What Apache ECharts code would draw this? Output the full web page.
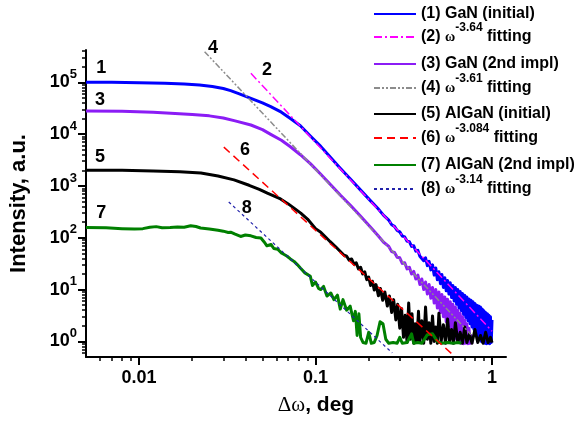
<!DOCTYPE html>
<html>
<head>
<meta charset="utf-8">
<script src="https://cdn.jsdelivr.net/npm/echarts@6/dist/echarts.min.js"></script>
<style>
  html, body { margin: 0; padding: 0; background: #fff; }
  #chart { width: 586px; height: 426px; }
</style>
</head>
<body>
<div id="chart"></div>
<script>
// axis ticks
const xMajorTicks = [0.01, 0.1, 1];
const xMinorTicks = [0.006, 0.007, 0.008, 0.009, 0.02, 0.03, 0.04, 0.05, 0.06, 0.07, 0.08, 0.09,
  0.2, 0.3, 0.4, 0.5, 0.6, 0.7, 0.8, 0.9];
const yMajorTicks = [1, 10, 100, 1000, 10000, 100000];
const yMinorTicks = [0.6, 0.7, 0.8, 0.9, 2, 3, 4, 5, 6, 7, 8, 9, 20, 30, 40, 50, 60, 70, 80, 90,
  200, 300, 400, 500, 600, 700, 800, 900, 2000, 3000, 4000, 5000, 6000, 7000, 8000, 9000,
  20000, 30000, 40000, 50000, 60000, 70000, 80000, 90000, 200000, 300000, 400000];

// (1) GaN (initial)
const ganInitial = [[0.005,1.0e5],[0.007,1.0e5],[0.01,9.8e4],[0.014,9.6e4],[0.018,9.3e4],[0.022,8.9e4],
  [0.026,8.3e4],[0.03,7.6e4],[0.033,6.9e4],[0.037,6.0e4],[0.043,4.9e4],[0.05,4.0e4],[0.0557,3.4e4],
  [0.064,2.65e4],[0.072,2.0e4],[0.082,1.45e4],[0.0934,9.2e3],[0.107,5.8e3],[0.121,3.6e3],[0.138,2.2e3],
  [0.158,1.35e3],[0.18,830],[0.205,515],[0.225,370],[0.243,270],
  [0.26,218],[0.27,178],[0.28,166],[0.29,138],[0.30,130],[0.31,108],[0.32,104],[0.33,86],[0.34,84],
  [0.35,68],[0.36,70],[0.37,55],[0.38,57],[0.39,44],[0.40,48],[0.41,36],[0.42,41],[0.43,29],[0.44,35],
  [0.45,24],[0.46,30],[0.47,19],[0.48,26],[0.49,15.5],[0.50,22],[0.51,13],[0.52,19.5],[0.53,11],
  [0.54,17],[0.55,9.5],[0.56,15],[0.57,8.2],[0.58,13.5],[0.59,7],[0.60,12],[0.61,6],[0.62,11],
  [0.63,5.2],[0.64,10],[0.65,4.4],[0.66,9.2],[0.67,3.9],[0.68,8.4],[0.69,3.3],[0.70,7.8],[0.71,2.9],
  [0.72,7.2],[0.73,2.5],[0.74,6.6],[0.75,2.2],[0.76,6.2],[0.77,1.9],[0.78,5.8],[0.79,1.7],[0.80,5.4],
  [0.81,1.5],[0.82,5.0],[0.83,1.3],[0.84,4.8],[0.85,1.15],[0.86,4.6],[0.87,1.0],[0.88,4.2],[0.89,0.95],
  [0.90,3.9],[0.91,0.92],[0.92,3.6],[0.93,0.9],[0.94,3.4],[0.95,0.92],[0.96,3.2],[0.97,0.9],[0.98,3.0],
  [0.99,0.95],[1.0,2.6]];

// (3) GaN (2nd impl)
const ganImpl = [[0.005,2.8e4],[0.008,2.75e4],[0.012,2.65e4],[0.016,2.5e4],[0.02,2.4e4],[0.025,2.25e4],
  [0.03,2.05e4],[0.035,1.8e4],[0.043,1.5e4],[0.05,1.22e4],[0.0557,9.9e3],[0.064,7.6e3],[0.072,5.7e3],
  [0.082,4.0e3],[0.0934,2.7e3],[0.107,1.68e3],[0.121,1.08e3],[0.138,670],[0.158,420],[0.18,260],
  [0.205,160],[0.225,112],[0.243,82],
  [0.26,68],[0.27,54],[0.28,52],[0.29,42],[0.30,41],[0.31,32],[0.32,33],[0.33,25],[0.34,27],[0.35,20],
  [0.36,22.5],[0.37,16],[0.38,19],[0.39,12.5],[0.40,16],[0.41,10],[0.42,14],[0.43,8.2],[0.44,12.5],
  [0.45,6.8],[0.46,11],[0.47,5.5],[0.48,10],[0.49,4.4],[0.50,9],[0.51,3.6],[0.52,8],[0.53,3.0],
  [0.54,7.2],[0.55,2.4],[0.56,6.5],[0.57,2.0],[0.58,5.8],[0.59,1.6],[0.60,5.2],[0.61,1.3],[0.62,4.6],
  [0.63,1.1],[0.64,4.0],[0.65,0.95],[0.66,3.5],[0.67,0.92],[0.68,3.0],[0.69,0.9],[0.70,2.6],[0.71,0.92],
  [0.72,2.2],[0.73,0.9],[0.74,1.8],[0.75,0.92],[0.76,1.3],[0.77,0.9]];

// (5) AlGaN (initial)
const alganInitial = [[0.005,2.0e3],[0.008,2.0e3],[0.012,1.95e3],[0.017,1.88e3],[0.0224,1.77e3],
  [0.028,1.56e3],[0.0345,1.31e3],[0.042,1.03e3],[0.048,860],[0.0533,726],[0.0633,560],[0.07,450],
  [0.0755,373],[0.0824,299],[0.09,230],[0.1,150],[0.107,128],[0.115,100],[0.121,84],[0.13,67],
  [0.139,53],[0.145,46],
  [0.15,44],[0.155,37],[0.16,39],[0.165,31],[0.17,33],[0.175,25],[0.18,27],[0.185,20],[0.19,22],
  [0.195,15.5],[0.20,17.5],[0.205,12],[0.21,14.5],[0.215,9.8],[0.22,12.5],[0.227,7.6],[0.233,10.5],
  [0.24,6.2],[0.247,9],[0.255,4.8],[0.262,7.5],[0.27,3.6],[0.277,6.4],[0.285,2.6],[0.292,5.2],
  [0.30,1.8],[0.307,4.3],[0.315,1.2],[0.322,3.2],[0.33,0.95],[0.337,5.5],[0.345,1.1],[0.352,3.4],
  [0.36,0.92],[0.367,2.2],[0.375,0.95],[0.383,3.8],[0.39,1.0],[0.40,2.5],[0.41,0.92],[0.42,4.6],
  [0.43,1.1],[0.44,2.3],[0.45,0.92],[0.46,3.1],[0.47,1.0],[0.48,1.9],[0.49,0.92],[0.50,3.5],
  [0.515,1.0],[0.53,2.1],[0.545,0.92],[0.56,2.7],[0.575,1.0],[0.59,1.7],[0.605,0.92],[0.62,2.3],
  [0.64,0.95],[0.66,1.5],[0.68,0.92],[0.70,1.9],[0.72,0.95],[0.745,1.4],[0.77,0.92],[0.80,1.7],
  [0.83,0.95],[0.86,1.3],[0.89,0.92],[0.92,1.5],[0.95,0.95],[0.98,1.2],[1.0,0.95]];

// (7) AlGaN (2nd impl)
const alganImpl = [[0.005,158],[0.0065,156],[0.008,150],[0.0094,147],[0.0105,150],[0.0115,160],
  [0.0125,164],[0.0135,156],[0.015,158],[0.0165,162],[0.018,160],[0.0196,171],[0.021,165],[0.0223,154],
  [0.025,148],[0.028,140],[0.03,134],[0.032,126],[0.033,128],[0.035,117],[0.0376,106],[0.04,113],
  [0.043,109],[0.046,101],[0.049,99],[0.051,84],[0.053,70],[0.056,74],[0.058,62],[0.061,60],[0.064,51],
  [0.066,48],[0.069,44],[0.072,39],[0.0755,35],[0.079,30],[0.082,26],[0.087,21],[0.0934,18],[0.096,12],
  [0.1,14],[0.104,10.5],[0.107,10],[0.111,11.5],[0.116,7.5],[0.122,8.6],[0.127,6.4],[0.133,7.8],
  [0.138,4.2],[0.143,6.4],[0.15,4.0],[0.157,4.8],[0.164,2.5],[0.168,3.8],[0.172,1.3],[0.176,3.4],
  [0.18,1.2],[0.186,0.95],[0.193,0.92],[0.2,1.5],[0.207,0.92],[0.215,0.95],[0.223,1.3],[0.232,2.4],
  [0.241,2.2],[0.25,1.1],[0.26,0.92],[0.275,0.95],[0.29,0.92],[0.30,1.2],[0.31,0.92],[0.33,0.95],
  [0.35,1.4],[0.36,0.92],[0.38,0.95],[0.40,0.92],[0.43,1.35],[0.46,1.4],[0.49,1.0],[0.52,0.92],
  [0.56,0.95],[0.60,0.92],[0.64,0.95],[0.67,0.92]];

// power-law fits, start and end points
const fitGanInitial = [[0.043, 1.49e5], [1.0, 1.57]];     // w^-3.64
const fitGanImpl = [[0.0235, 3.9e5], [0.76, 1.35]];       // w^-3.61
const fitAlganInitial = [[0.0302, 5.6e3], [0.594, 0.57]]; // w^-3.084
const fitAlganImpl = [[0.0322, 490], [0.272, 0.6]];       // w^-3.14

// curve number labels
const curveLabels = ['1', '2', '3', '4', '5', '6', '7', '8'];
const curveLabelX = [0.0061, 0.053, 0.006, 0.0262, 0.006, 0.0398, 0.0061, 0.0407];
const curveLabelY = [1.89e5, 1.73e5, 4.56e4, 4.58e5, 3.64e3, 4.94e3, 303, 380];

const seriesNames = ['(1) GaN (initial)', '(2) fit -3.64', '(3) GaN (2nd impl)', '(4) fit -3.61',
  '(5) AlGaN (initial)', '(6) fit -3.084', '(7) AlGaN (2nd impl)', '(8) fit -3.14'];
const legendLabels = ['(1) GaN (initial)', '(2) {w|ω}{sup|-3.64} fitting', '(3) GaN (2nd impl)',
  '(4) {w|ω}{sup|-3.61} fitting', '(5) AlGaN (initial)', '(6) {w|ω}{sup|-3.084} fitting',
  '(7) AlGaN (2nd impl)', '(8) {w|ω}{sup|-3.14} fitting'];
const legendTops = [6, 22, 56, 73, 106, 123, 157, 174];

const FONT = 'Liberation Sans';
const chart = echarts.init(document.getElementById('chart'));

const curve = (name, data, color, width, type, z) => ({
  name, type: 'line', data, symbol: 'none', showSymbol: false, z,
  lineStyle: { color, width, type, join: 'round' },
  itemStyle: { color },
  emphasis: { disabled: true }
});

const series = [
  curve(seriesNames[0], ganInitial, '#0000ff', 3, 'solid', 2),
  curve(seriesNames[1], fitGanInitial, '#ff00ff', 1.5, [8, 3, 2, 3], 3),
  curve(seriesNames[2], ganImpl, '#8b1cf5', 3, 'solid', 2),
  curve(seriesNames[3], fitGanImpl, '#8c8c8c', 1.5, [6, 2, 2, 2, 2, 2], 3),
  curve(seriesNames[4], alganInitial, '#000000', 3, 'solid', 2),
  curve(seriesNames[5], fitAlganInitial, '#ff0000', 1.5, [8, 5], 3),
  curve(seriesNames[6], alganImpl, '#008000', 3, 'solid', 2),
  curve(seriesNames[7], fitAlganImpl, '#2222aa', 1.2, [3, 3], 3),
  {
    type: 'scatter', symbolSize: 1, clip: false, z: 4, silent: true,
    itemStyle: { color: 'rgba(0,0,0,0)', opacity: 1 },
    data: curveLabelX.map((x, i) => [x, curveLabelY[i]]),
    label: {
      show: true, position: 'inside', color: '#000', opacity: 1,
      fontFamily: FONT, fontWeight: 'bold', fontSize: 18,
      formatter: p => curveLabels[p.dataIndex]
    }
  }
];

const legends = seriesNames.map((n, i) => ({
  data: [n], orient: 'vertical', left: 373, top: legendTops[i], padding: 0,
  itemWidth: 42, itemHeight: 14, itemGap: 0, selectedMode: false,
  itemStyle: { opacity: 0 },
  formatter: name => legendLabels[seriesNames.indexOf(name)],
  textStyle: {
    color: '#000', fontFamily: FONT, fontWeight: 'bold', fontSize: 16,
    rich: {
      w: { fontFamily: 'Liberation Serif', fontSize: 14, color: '#000' },
      sup: { fontFamily: FONT, fontWeight: 'bold', fontSize: 12, color: '#000', padding: [0, 0, 18, 0] }
    }
  }
}));

const axisText = { color: '#000', fontFamily: FONT, fontWeight: 'bold', fontSize: 18 };

chart.setOption({
  animation: false,
  backgroundColor: '#fff',
  grid: { left: 86, right: 80, top: 50, bottom: 69, containLabel: false },
  legend: legends,
  xAxis: [
    {
      type: 'log', logBase: 10, min: 0.005, max: 1.2, position: 'bottom',
      axisLine: { onZero: false, lineStyle: { color: '#000', width: 2 } },
      axisTick: { customValues: xMajorTicks, length: 8, lineStyle: { color: '#000', width: 2 } },
      axisLabel: Object.assign({ customValues: xMajorTicks, margin: 12, formatter: v => String(v) }, axisText),
      splitLine: { show: false },
      name: '{g|Δω}{t|, deg}', nameLocation: 'middle', nameGap: 38,
      nameTextStyle: {
        padding: [0, 0, 0, 40],
        rich: {
          g: { fontFamily: 'Liberation Serif', fontSize: 21, color: '#000' },
          t: { fontFamily: FONT, fontWeight: 'bold', fontSize: 21, color: '#000' }
        }
      }
    },
    {
      type: 'log', logBase: 10, min: 0.005, max: 1.2, position: 'bottom',
      axisLine: { show: false },
      axisTick: { customValues: xMinorTicks, length: 4, lineStyle: { color: '#000', width: 1.5 } },
      axisLabel: { show: false },
      splitLine: { show: false }
    }
  ],
  yAxis: [
    {
      type: 'log', logBase: 10, min: 0.5, max: 4.2e5, position: 'left',
      axisLine: { onZero: false, lineStyle: { color: '#000', width: 2 } },
      axisTick: { customValues: yMajorTicks, length: 8, lineStyle: { color: '#000', width: 2 } },
      axisLabel: Object.assign({
        customValues: yMajorTicks, margin: 9,
        formatter: v => '10{sup|' + Math.round(Math.log10(v)) + '}',
        rich: { sup: { fontFamily: FONT, fontWeight: 'bold', fontSize: 13, color: '#000', padding: [0, 0, 16, 0] } }
      }, axisText),
      splitLine: { show: false },
      name: 'Intensity, a.u.', nameLocation: 'middle', nameGap: 56,
      nameTextStyle: { color: '#000', fontFamily: FONT, fontWeight: 'bold', fontSize: 22, padding: [0, 0, 0, 0] }
    },
    {
      type: 'log', logBase: 10, min: 0.5, max: 4.2e5, position: 'left',
      axisLine: { show: false },
      axisTick: { customValues: yMinorTicks, length: 4, lineStyle: { color: '#000', width: 1.5 } },
      axisLabel: { show: false },
      splitLine: { show: false }
    }
  ],
  series
});
</script>
</body>
</html>
